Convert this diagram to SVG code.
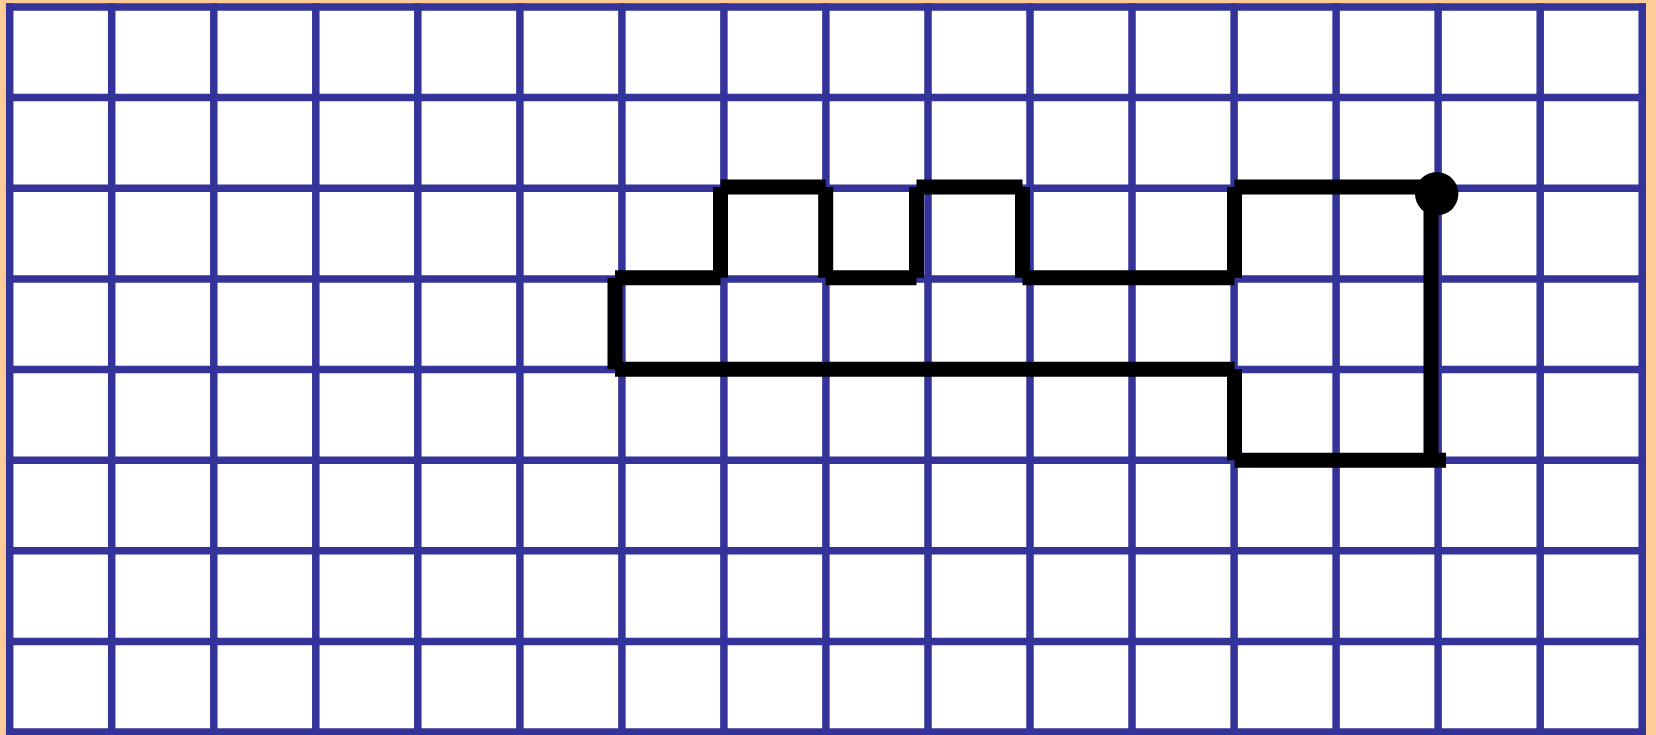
<svg xmlns="http://www.w3.org/2000/svg" width="1656" height="735" viewBox="0 0 1656 735">
<style>
.grid line{stroke:#333399;stroke-width:7.5;stroke-linecap:square}
.route{fill:none;stroke:#000;stroke-width:15;stroke-linecap:butt}
</style>
<rect x="0" y="0" width="1656" height="735" fill="#FFCC99"/>
<rect x="9.7" y="7" width="1632.5" height="730" fill="#FFFFFF"/>
<g id="grid" class="grid">
<line x1="9.7" y1="7" x2="9.7" y2="732"/>
<line x1="111.7" y1="7" x2="111.7" y2="732"/>
<line x1="213.8" y1="7" x2="213.8" y2="732"/>
<line x1="315.8" y1="7" x2="315.8" y2="732"/>
<line x1="417.8" y1="7" x2="417.8" y2="732"/>
<line x1="519.9" y1="7" x2="519.9" y2="732"/>
<line x1="621.9" y1="7" x2="621.9" y2="732"/>
<line x1="723.9" y1="7" x2="723.9" y2="732"/>
<line x1="825.9" y1="7" x2="825.9" y2="732"/>
<line x1="928" y1="7" x2="928" y2="732"/>
<line x1="1030" y1="7" x2="1030" y2="732"/>
<line x1="1132" y1="7" x2="1132" y2="732"/>
<line x1="1234.1" y1="7" x2="1234.1" y2="732"/>
<line x1="1336.1" y1="7" x2="1336.1" y2="732"/>
<line x1="1438.1" y1="7" x2="1438.1" y2="732"/>
<line x1="1540.2" y1="7" x2="1540.2" y2="732"/>
<line x1="1642.2" y1="7" x2="1642.2" y2="732"/>
<line x1="9.7" y1="7" x2="1642.2" y2="7"/>
<line x1="9.7" y1="97.6" x2="1642.2" y2="97.6"/>
<line x1="9.7" y1="188.3" x2="1642.2" y2="188.3"/>
<line x1="9.7" y1="278.9" x2="1642.2" y2="278.9"/>
<line x1="9.7" y1="369.6" x2="1642.2" y2="369.6"/>
<line x1="9.7" y1="460.2" x2="1642.2" y2="460.2"/>
<line x1="9.7" y1="550.8" x2="1642.2" y2="550.8"/>
<line x1="9.7" y1="641.5" x2="1642.2" y2="641.5"/>
<line x1="9.7" y1="732.1" x2="1642.2" y2="732.1"/>
</g>
<g id="connectors">
<path class="route" d="M615 277.8V369.2 M615 277.8H720.5 M720.5 277.8V187 M720.5 187H825.7 M825.7 187V277.8 M825.7 277.8H916.5 M916.5 277.8V187 M916.5 187H1022.5 M1022.5 187V277.8 M1022.5 277.8H1234.5 M1234.5 277.8V187 M1234.5 187H1431 M1431 187V460.2 M1446 460.2H1234.5 M1234.5 460.2V369.2 M1234.5 369.2H615"/>
</g>
<g id="start-node">
<circle cx="1436.7" cy="193.8" r="21.7" fill="#000"/>
</g>
</svg>
